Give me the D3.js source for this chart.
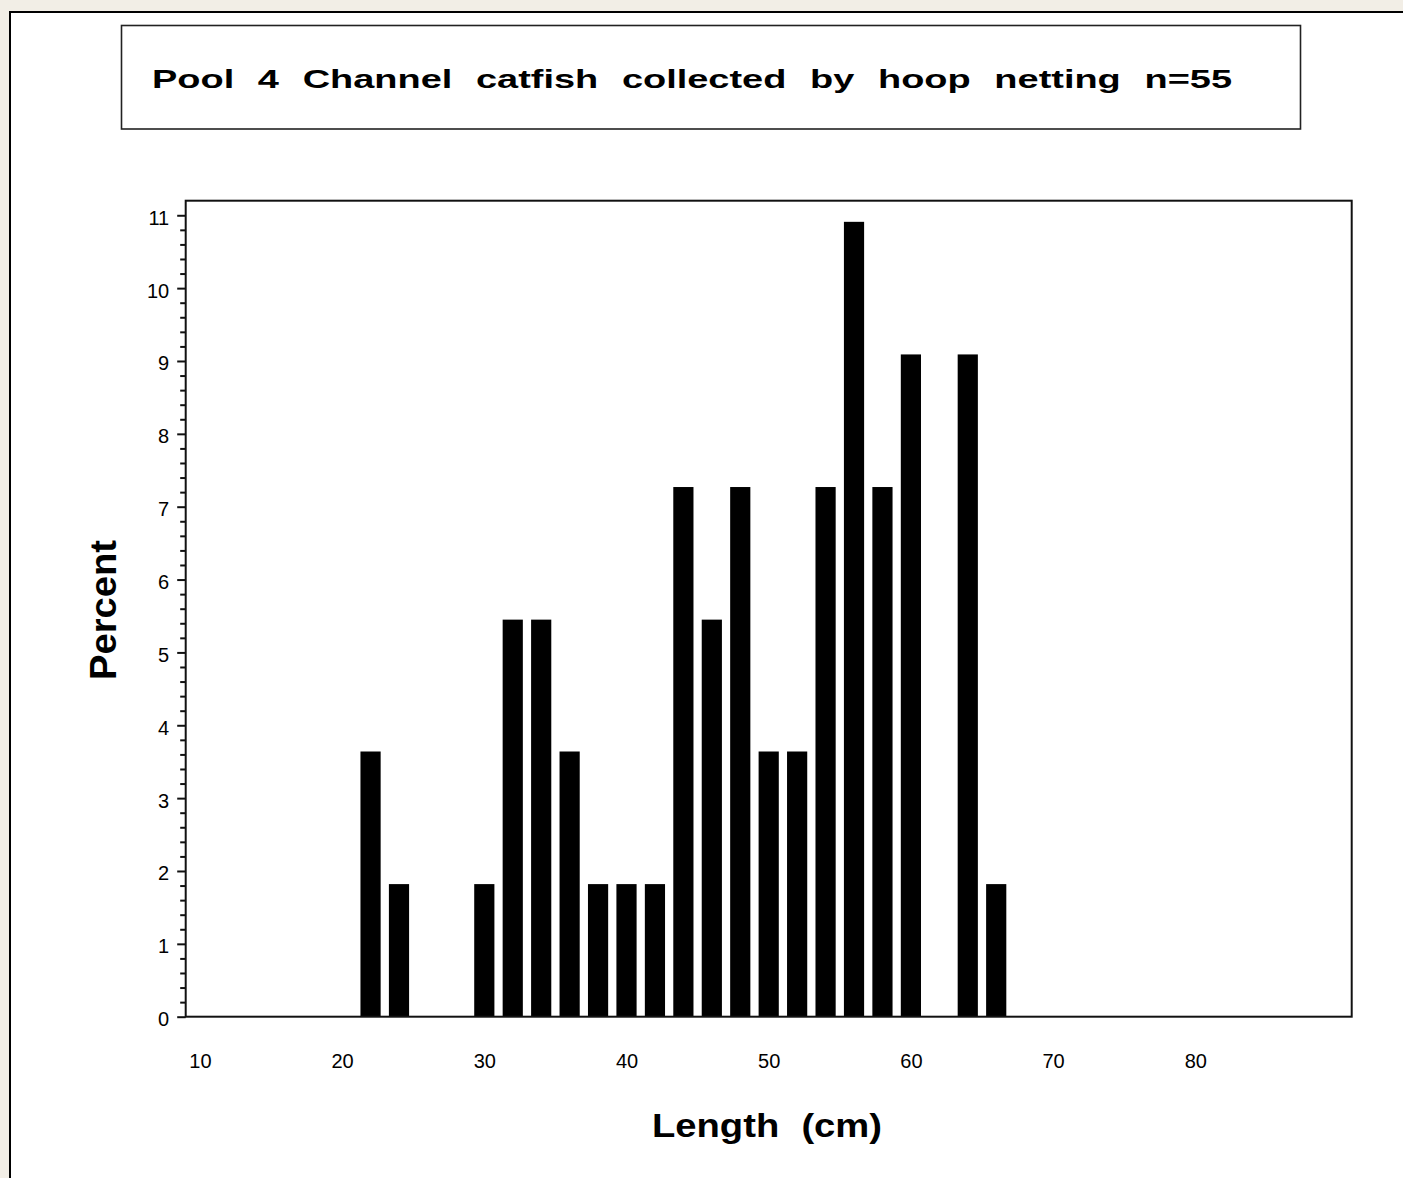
<!DOCTYPE html>
<html>
<head>
<meta charset="utf-8">
<script src="https://cdn.jsdelivr.net/npm/d3@7"></script>
<style>
  html, body { margin: 0; padding: 0; background: #f2eee6; }
  svg { display: block; }
</style>
</head>
<body>
<svg id="chart" width="1403" height="1178"></svg>
<script>
// ---- data ----
const titleText = "Pool 4 Channel catfish collected by hoop netting n=55";
const xLabel = "Length (cm)";
const yLabel = "Percent";
const lengthBins = [22, 24, 26, 28, 30, 32, 34, 36, 38, 40, 42, 44, 46, 48, 50, 52, 54, 56, 58, 60, 62, 64, 66];
const percents   = [3.64, 1.82, 0, 0, 1.82, 5.45, 5.45, 3.64, 1.82, 1.82, 1.82, 7.27, 5.45, 7.27, 3.64, 3.64, 7.27, 10.91, 7.27, 9.09, 0, 9.09, 1.82];
const xTicks = [10, 20, 30, 40, 50, 60, 70, 80];
const yTicks = [0, 1, 2, 3, 4, 5, 6, 7, 8, 9, 10, 11];
const yMinorTicks = d3.range(0, 55).filter(i => i % 5 !== 0).map(i => i / 5);

// ---- layout ----
const svg = d3.select("#chart");
const plot = { left: 185.7, right: 1351.7, top: 200.7, bottom: 1016.7 };
const x = d3.scaleLinear().domain([9, 91]).range([plot.left, plot.right]);
const y = d3.scaleLinear().domain([0, 11.2]).range([plot.bottom, plot.top]);
const binWidth = 2;
const barFrac = 0.71;
const font = "Liberation Sans, Arial, sans-serif";

// outer white page with frame
svg.append("rect")
  .attr("x", 10).attr("y", 12).attr("width", 1500).attr("height", 1300)
  .attr("fill", "#ffffff").attr("stroke", "#000").attr("stroke-width", 2);

// title box
svg.append("rect")
  .attr("x", 121.5).attr("y", 25.5).attr("width", 1179).attr("height", 103.5)
  .attr("fill", "none").attr("stroke", "#222").attr("stroke-width", 1.6);

svg.append("text")
  .attr("x", 152).attr("y", 88)
  .attr("font-family", font)
  .attr("font-weight", "bold")
  .attr("font-size", 26)
  .style("word-spacing", "9px")
  .attr("textLength", 1080).attr("lengthAdjust", "spacingAndGlyphs")
  .attr("fill", "#000")
  .text(titleText);

// bars
svg.append("g").selectAll("rect")
  .data(lengthBins.map((b, i) => ({ b, p: percents[i] })).filter(d => d.p > 0))
  .join("rect")
  .attr("x", d => x(d.b - binWidth * barFrac / 2))
  .attr("width", d => x(d.b + binWidth * barFrac / 2) - x(d.b - binWidth * barFrac / 2))
  .attr("y", d => y(d.p))
  .attr("height", d => y(0) - y(d.p))
  .attr("fill", "#000");

// plot frame
svg.append("rect")
  .attr("x", plot.left).attr("y", plot.top)
  .attr("width", plot.right - plot.left).attr("height", plot.bottom - plot.top)
  .attr("fill", "none").attr("stroke", "#111").attr("stroke-width", 2);

// y axis major
const yAxis = svg.append("g")
  .attr("transform", `translate(${plot.left},0)`)
  .call(d3.axisLeft(y).tickValues(yTicks).tickSize(8.5).tickPadding(8).tickFormat(d3.format("d")));
yAxis.select(".domain").remove();
yAxis.selectAll(".tick line").attr("stroke", "#111").attr("stroke-width", 2);
yAxis.selectAll(".tick text")
  .attr("font-family", font)
  .attr("font-size", 20).attr("fill", "#000").attr("dy", "0.45em");

// y axis minor
const yMinor = svg.append("g")
  .attr("transform", `translate(${plot.left},0)`)
  .call(d3.axisLeft(y).tickValues(yMinorTicks).tickSize(5.5).tickFormat(""));
yMinor.select(".domain").remove();
yMinor.selectAll(".tick line").attr("stroke", "#111").attr("stroke-width", 2);

// x axis labels
const xAxis = svg.append("g")
  .attr("transform", `translate(0,${plot.bottom})`)
  .call(d3.axisBottom(x).tickValues(xTicks).tickSize(0).tickPadding(51).tickFormat(d3.format("d")));
xAxis.select(".domain").remove();
xAxis.selectAll(".tick text")
  .attr("font-family", font)
  .attr("font-size", 20).attr("fill", "#000").attr("dy", "0");

// axis titles
svg.append("text")
  .attr("x", 767).attr("y", 1137)
  .attr("text-anchor", "middle")
  .attr("font-family", font)
  .attr("font-weight", "bold").attr("font-size", 33)
  .style("word-spacing", "10px")
  .attr("textLength", 230).attr("lengthAdjust", "spacingAndGlyphs")
  .text(xLabel);

svg.append("text")
  .attr("transform", "translate(116,610) rotate(-90)")
  .attr("text-anchor", "middle")
  .attr("font-family", font)
  .attr("font-weight", "bold").attr("font-size", 36)
  .attr("textLength", 140).attr("lengthAdjust", "spacingAndGlyphs")
  .text(yLabel);
</script>
</body>
</html>
